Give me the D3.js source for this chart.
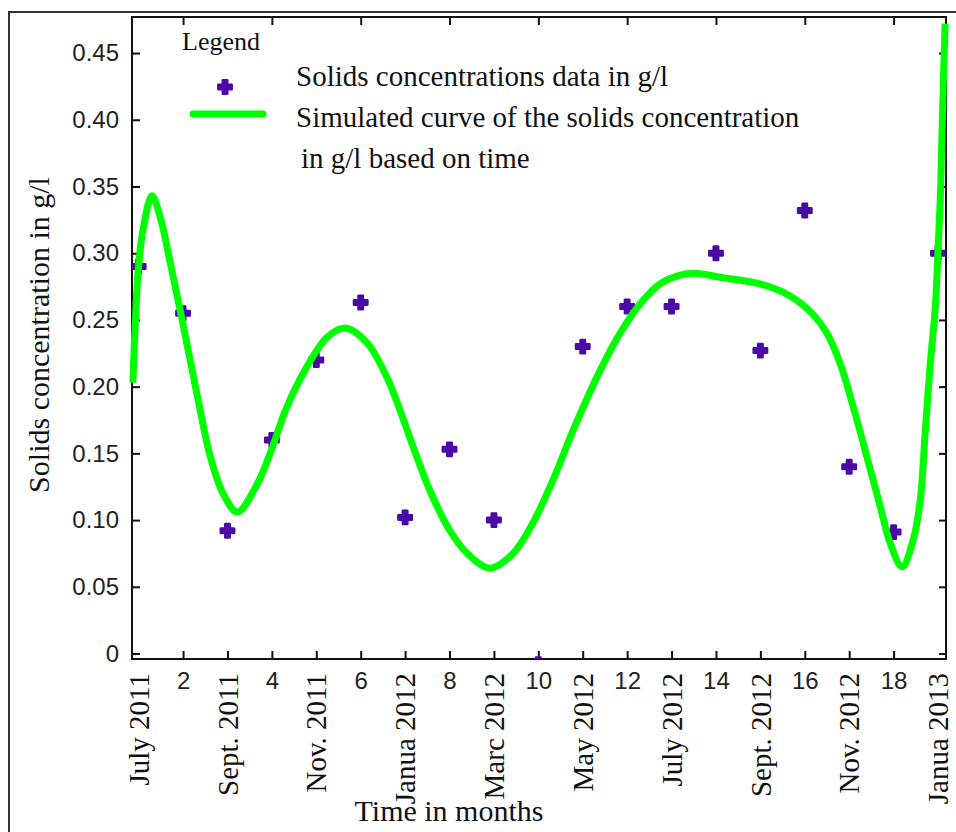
<!DOCTYPE html>
<html>
<head>
<meta charset="utf-8">
<script src="https://cdn.jsdelivr.net/npm/d3@7"></script>
<style>
  body { margin: 0; background: #fff; }
  .tick-num { font-family: "Liberation Sans", Arial, sans-serif; font-size: 24px; fill: #222; }
  .serif { font-family: "Liberation Serif", "Times New Roman", serif; fill: #111; }
</style>
</head>
<body>
<div id="chart"></div>
<script>
// months of the samples (1 = July 2011 ... 19 = January 2013)
let months = [1, 2, 3, 4, 5, 6, 7, 8, 9, 10, 11, 12, 13, 14, 15, 16, 17, 18, 19];
// measured solids concentration, g/l
let solids = [0.29, 0.255, 0.092, 0.16, 0.22, 0.263, 0.102, 0.153, 0.1, -0.008,
  0.23, 0.26, 0.26, 0.30, 0.227, 0.332, 0.14, 0.091, 0.30];

// simulated curve
let curveMonths = [0.87, 0.99, 1.1, 1.3, 1.5, 1.71, 1.98, 2.34, 2.61, 2.9, 3.22, 3.67, 3.96,
  4.34, 4.79, 5.24, 5.65, 6.14, 6.59, 6.89, 7.18, 7.56, 8.01, 8.4, 8.91, 9.43, 9.88,
  10.33, 10.78, 11.39, 11.84, 12.29, 12.74, 13.19, 13.53, 14.09, 14.99, 15.67, 16.19,
  16.5, 16.8, 17.09, 17.41, 17.7, 17.92, 18.19, 18.44, 18.6, 18.71, 18.82, 18.94,
  19.0, 19.05, 19.09, 19.12, 19.16];
let curveValues = [0.203, 0.287, 0.318, 0.343, 0.325, 0.293, 0.25, 0.19, 0.148, 0.12, 0.106,
  0.127, 0.15, 0.185, 0.215, 0.237, 0.244, 0.233, 0.207, 0.182, 0.155, 0.122, 0.092,
  0.075, 0.064, 0.075, 0.098, 0.13, 0.167, 0.212, 0.24, 0.262, 0.277, 0.2835, 0.285,
  0.282, 0.277, 0.268, 0.254, 0.24, 0.217, 0.185, 0.146, 0.11, 0.083, 0.065, 0.085,
  0.115, 0.165, 0.215, 0.26, 0.302, 0.34, 0.39, 0.427, 0.472];

// axis ticks
let yTicks = [0, 0.05, 0.1, 0.15, 0.2, 0.25, 0.3, 0.35, 0.4, 0.45];
let numTicks = [2, 4, 6, 8, 10, 12, 14, 16, 18];
let monthTicks = [1, 3, 5, 7, 9, 11, 13, 15, 17, 19];
let monthLabels = ["July 2011", "Sept. 2011", "Nov. 2011", "Janua 2012", "Marc 2012",
  "May 2012", "July 2012", "Sept. 2012", "Nov. 2012", "Janua 2013"];

let svgWidth = 956;
let svgHeight = 832;
let plot = { left: 132, top: 17, right: 946, bottom: 659 };

let svg = d3.select("#chart")
  .append("svg")
  .attr("width", svgWidth)
  .attr("height", svgHeight);

// outer frame (only top and left visible)
svg.append("path")
  .attr("d", `M9,${svgHeight} V12 H${svgWidth}`)
  .attr("fill", "none")
  .attr("stroke", "#333")
  .attr("stroke-width", 2);

let x = d3.scaleLinear().domain([0.85, 19.18]).range([plot.left, plot.right]);
let y = d3.scaleLinear().domain([-0.0041, 0.477]).range([plot.bottom, plot.top]);

svg.append("clipPath").attr("id", "clip")
  .append("rect")
  .attr("x", plot.left).attr("y", plot.top)
  .attr("width", plot.right - plot.left).attr("height", plot.bottom - plot.top);

// left axis with labels, ticks inward
let leftAxis = svg.append("g")
  .attr("transform", `translate(${plot.left},0)`)
  .call(d3.axisLeft(y).tickValues(yTicks).tickSizeInner(-8).tickSizeOuter(0).tickPadding(13)
    .tickFormat(d => d === 0 ? "0" : d3.format(".2f")(d)));
leftAxis.select(".domain").remove();
leftAxis.selectAll("text").attr("class", "tick-num").attr("font-family", null).attr("font-size", null);

// right axis, ticks only
let rightAxis = svg.append("g")
  .attr("transform", `translate(${plot.right},0)`)
  .call(d3.axisRight(y).tickValues(yTicks).tickSizeInner(-7).tickSizeOuter(0).tickFormat(""));
rightAxis.select(".domain").remove();

// bottom axis: numeric labels upright, month labels rotated
let bottomAxis = svg.append("g")
  .attr("transform", `translate(0,${plot.bottom})`)
  .call(d3.axisBottom(x).tickValues(d3.merge([numTicks, monthTicks.slice(1, -1)]))
    .tickSizeInner(-8).tickSizeOuter(0).tickPadding(13)
    .tickFormat(d => numTicks.includes(d) ? d : ""));
bottomAxis.select(".domain").remove();
bottomAxis.selectAll("text").attr("class", "tick-num").attr("font-family", null).attr("font-size", null)
  .attr("dy", "0.71em").attr("y", 13);

// top axis, ticks only at even months
let topAxis = svg.append("g")
  .attr("transform", `translate(0,${plot.top})`)
  .call(d3.axisTop(x).tickValues(numTicks).tickSizeInner(-8).tickSizeOuter(0).tickFormat(""));
topAxis.select(".domain").remove();

svg.selectAll(".tick line").attr("stroke", "#111").attr("stroke-width", 2);

svg.append("g").selectAll("text")
  .data(monthTicks)
  .join("text")
  .attr("class", "serif")
  .attr("font-size", 29)
  .attr("text-anchor", "end")
  .attr("dy", "0.35em")
  .attr("transform", d => `translate(${x(d)},673) rotate(-90)`)
  .text((d, i) => monthLabels[i]);

// plot box
svg.append("rect")
  .attr("x", plot.left).attr("y", plot.top)
  .attr("width", plot.right - plot.left).attr("height", plot.bottom - plot.top)
  .attr("fill", "none")
  .attr("stroke", "#111")
  .attr("stroke-width", 2);

// chunky rounded plus markers
let marker = d3.symbol().type(d3.symbolCross).size(100);
let purple = "#4b0aa6";
let green = "#00ff00";

let clipped = svg.append("g").attr("clip-path", "url(#clip)");

clipped.selectAll("path.pt")
  .data(months)
  .join("path")
  .attr("class", "pt")
  .attr("d", marker)
  .attr("transform", (d, i) => `translate(${x(d)},${y(solids[i])})`)
  .attr("fill", purple)
  .attr("stroke", purple)
  .attr("stroke-width", 2.5)
  .attr("stroke-linejoin", "round");

let line = d3.line()
  .x(d => x(d[0]))
  .y(d => y(d[1]))
  .curve(d3.curveCatmullRom.alpha(0.5));

svg.append("path")
  .datum(d3.zip(curveMonths, curveValues))
  .attr("d", line)
  .attr("fill", "none")
  .attr("stroke", green)
  .attr("stroke-width", 7)
  .attr("stroke-linejoin", "round");

// legend
svg.append("text").attr("class", "serif")
  .attr("x", 221).attr("y", 50)
  .attr("text-anchor", "middle")
  .attr("font-size", 26)
  .text("Legend");

svg.append("path")
  .attr("d", marker)
  .attr("transform", "translate(225,87)")
  .attr("fill", purple)
  .attr("stroke", purple)
  .attr("stroke-width", 2.5)
  .attr("stroke-linejoin", "round");

svg.append("line")
  .attr("x1", 193).attr("x2", 263)
  .attr("y1", 114).attr("y2", 114)
  .attr("stroke", green)
  .attr("stroke-width", 7)
  .attr("stroke-linecap", "round");

let legendText = ["Solids concentrations data in g/l",
  "Simulated curve of the solids concentration",
  " in g/l based on time"];
svg.append("g").selectAll("text")
  .data(legendText)
  .join("text")
  .attr("class", "serif")
  .attr("font-size", 29)
  .attr("x", (d, i) => i === 2 ? 301 : 296)
  .attr("y", (d, i) => [86, 127, 168][i])
  .text(d => d.trim());

// axis titles
svg.append("text").attr("class", "serif")
  .attr("x", 449).attr("y", 821)
  .attr("text-anchor", "middle")
  .attr("font-size", 30)
  .text("Time in months");

svg.append("text").attr("class", "serif")
  .attr("transform", "translate(38,335) rotate(-90)")
  .attr("text-anchor", "middle")
  .attr("dy", "0.35em")
  .attr("font-size", 30)
  .text("Solids concentration in g/l");
</script>
</body>
</html>
